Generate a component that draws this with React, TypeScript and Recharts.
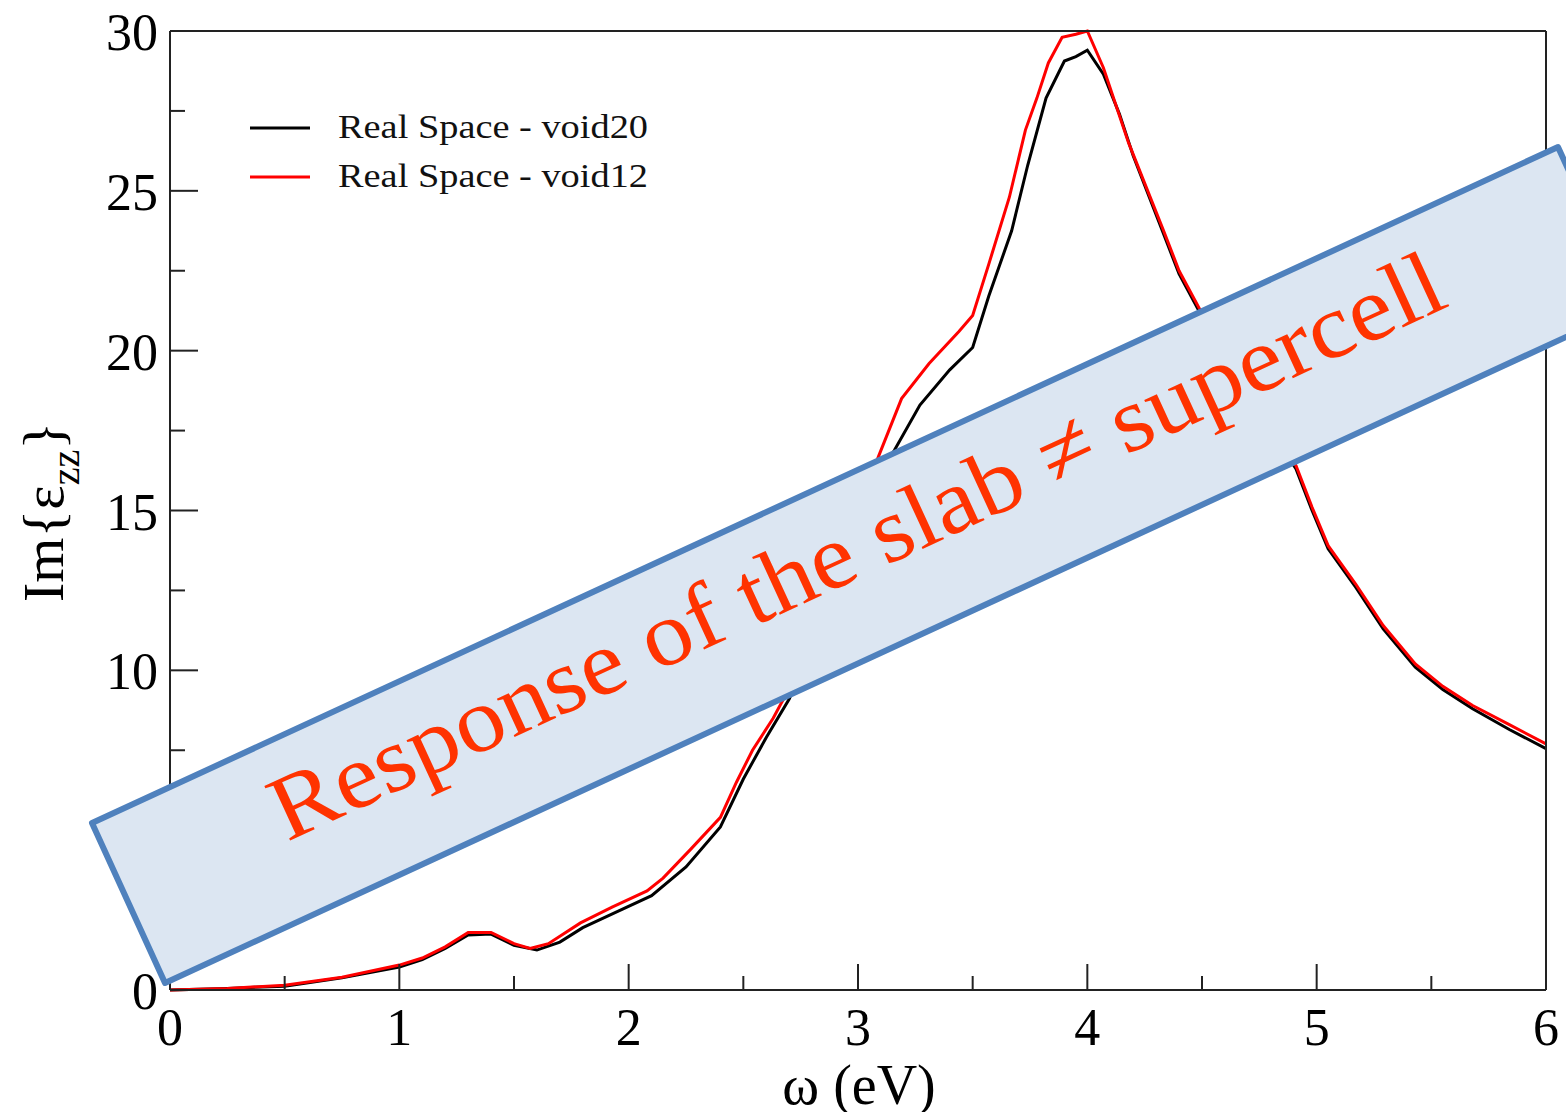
import React from 'react';
import { LineChart, Line, XAxis, YAxis, Legend, Label } from 'recharts';

// Im{eps_zz} spectra, two vacuum sizes
const OMEGA_VOID20 = [
  0, 0.25, 0.5, 0.75, 1.0, 1.1, 1.2, 1.3, 1.4, 1.5, 1.6, 1.7, 1.8, 1.95, 2.1, 2.25, 2.4, 2.5, 2.6, 2.7,
  2.8, 2.9, 3.0, 3.1, 3.16, 3.27, 3.4, 3.5, 3.57, 3.67, 3.74, 3.82, 3.9, 3.95, 4.0, 4.07, 4.14, 4.2,
  4.33, 4.4, 4.49, 4.6, 4.7, 4.8, 4.91, 4.98, 5.05, 5.17, 5.29, 5.43, 5.55, 5.68, 5.84, 6.0,
];
const EPS_VOID20 = [
  0, 0.05, 0.12, 0.38, 0.72, 0.95, 1.3, 1.72, 1.75, 1.4, 1.25, 1.5, 1.95, 2.45, 2.95, 3.85, 5.1, 6.6, 7.9,
  9.1, 10.8, 12.7, 14.6, 16.2, 16.9, 18.3, 19.4, 20.1, 21.7, 23.75, 25.8, 27.9, 29.06, 29.2, 29.4, 28.65,
  27.4, 26.1, 23.7, 22.4, 21.2, 19.8, 18.6, 17.5, 16.3, 15.0, 13.8, 12.6, 11.3, 10.1, 9.4, 8.8, 8.15, 7.55,
];

const OMEGA_VOID12 = [
  0, 0.25, 0.5, 0.75, 1.0, 1.1, 1.2, 1.3, 1.4, 1.5, 1.57, 1.65, 1.79, 1.93, 2.08, 2.15, 2.27, 2.4, 2.47,
  2.54, 2.63, 2.69, 2.8, 2.9, 3.0, 3.09, 3.19, 3.31, 3.44, 3.5, 3.57, 3.66, 3.73, 3.78, 3.83, 3.89, 3.95,
  4.0, 4.07, 4.18, 4.33, 4.4, 4.49, 4.6, 4.7, 4.8, 4.91, 4.98, 5.05, 5.17, 5.29, 5.43, 5.55, 5.68, 5.84, 6.0,
];
const EPS_VOID12 = [
  0, 0.05, 0.15, 0.4, 0.78, 1.0, 1.35, 1.8, 1.8, 1.45, 1.3, 1.45, 2.1, 2.6, 3.1, 3.5, 4.4, 5.4, 6.5, 7.5,
  8.5, 9.3, 11.2, 13.2, 15.0, 16.7, 18.5, 19.6, 20.6, 21.1, 22.7, 24.8, 26.9, 27.9, 29.0, 29.8, 29.9, 30.0,
  28.85, 26.5, 23.8, 22.5, 21.3, 19.9, 18.7, 17.6, 16.4, 15.1, 13.9, 12.7, 11.4, 10.2, 9.5, 8.9, 8.3, 7.7,
];

const X_TICKS = [0, 0.5, 1, 1.5, 2, 2.5, 3, 3.5, 4, 4.5, 5, 5.5, 6];
const Y_TICKS = [0, 2.5, 5, 7.5, 10, 12.5, 15, 17.5, 20, 22.5, 25, 27.5, 30];

const SERIES = [
  { name: 'Real Space - void20', color: '#000000', xs: OMEGA_VOID20, ys: EPS_VOID20 },
  { name: 'Real Space - void12', color: '#ff0000', xs: OMEGA_VOID12, ys: EPS_VOID12 },
];

const W = 1566;
const H = 1112;
const SERIF = '"Liberation Serif", "Times New Roman", serif';
const AXIS = '#222';

const toPoints = (xs: number[], ys: number[]) => xs.map((x, i) => ({ omega: x, eps: ys[i] }));

// ticks point inward on all four sides of the frame
function BottomTick({ x, y, payload }: any) {
  const major = payload.value % 1 === 0;
  return (
    <g>
      <line x1={x} x2={x} y1={y} y2={y - (major ? 26 : 14)} stroke={AXIS} strokeWidth={2} />
      {major && (
        <text x={x} y={y + 55} textAnchor="middle" fontSize={52} fontFamily={SERIF} fill="#000">
          {payload.value}
        </text>
      )}
    </g>
  );
}

function TopTick({ x, y, payload }: any) {
  const major = payload.value % 1 === 0;
  return <line x1={x} x2={x} y1={y} y2={y + (major ? 26 : 14)} stroke={AXIS} strokeWidth={2} />;
}

function LeftTick({ x, y, payload }: any) {
  const major = payload.value % 5 === 0;
  return (
    <g>
      <line x1={x} x2={x + (major ? 28 : 15)} y1={y} y2={y} stroke={AXIS} strokeWidth={2} />
      {major && (
        <text x={x - 12} y={y + 19} textAnchor="end" fontSize={52} fontFamily={SERIF} fill="#000">
          {payload.value}
        </text>
      )}
    </g>
  );
}

function RightTick({ x, y, payload }: any) {
  const major = payload.value % 5 === 0;
  return <line x1={x} x2={x - (major ? 28 : 15)} y1={y} y2={y} stroke={AXIS} strokeWidth={2} />;
}

function YTitle() {
  return (
    <text
      x={63}
      y={512}
      transform="rotate(-90 63 512)"
      textAnchor="middle"
      fontSize={58}
      fontFamily={SERIF}
      fill="#000"
    >
      Im{'{'}ε
      <tspan fontSize={40} dy={16}>
        zz
      </tspan>
      <tspan dy={-16}>{'}'}</tspan>
    </text>
  );
}

function XTitle() {
  return (
    <text x={859} y={1104} textAnchor="middle" fontSize={56} fontFamily={SERIF} fill="#000">
      ω (eV)
    </text>
  );
}

function LegendBox() {
  return (
    <svg width={430} height={110} style={{ display: 'block' }}>
      {SERIES.map((s, i) => (
        <g key={s.name}>
          <line x1={10} x2={70} y1={28 + i * 49} y2={28 + i * 49} stroke={s.color} strokeWidth={3} />
          <text
            x={98}
            y={38 + i * 49}
            fontSize={33}
            fontFamily={SERIF}
            fill="#111"
            textLength={310}
            lengthAdjust="spacingAndGlyphs"
          >
            {s.name}
          </text>
        </g>
      ))}
    </svg>
  );
}

// slanted call-out box laid over the plot
function Banner() {
  return (
    <svg
      width={W}
      height={H}
      style={{ position: 'absolute', left: 0, top: 0, pointerEvents: 'none' }}
    >
      <polygon
        points="92,823 1558,147 1631,307 165,983"
        fill="#dce6f2"
        stroke="#4f81bd"
        strokeWidth={6}
        strokeLinejoin="round"
      />
      <text
        x={287}
        y={842}
        transform="rotate(-24.76 287 842)"
        fontSize={92}
        fontFamily={SERIF}
        fill="#ff3300"
        textLength={1282}
        lengthAdjust="spacingAndGlyphs"
      >
        Response of the slab ≠ supercell
      </text>
    </svg>
  );
}

export default function App() {
  return (
    <div
      style={{
        position: 'absolute',
        left: 0,
        top: 0,
        width: W,
        height: H,
        overflow: 'hidden',
        background: '#fff',
      }}
    >
      <LineChart width={W} height={H} margin={{ top: 30, right: 19, bottom: 121, left: 169 }}>
        <XAxis
          xAxisId="bottom"
          type="number"
          dataKey="omega"
          domain={[0, 6]}
          ticks={X_TICKS}
          interval={0}
          height={1}
          tickSize={0}
          tickMargin={0}
          tickLine={false}
          tick={<BottomTick />}
          axisLine={{ stroke: AXIS, strokeWidth: 2 }}
        >
          <Label content={<XTitle />} />
        </XAxis>
        <XAxis
          xAxisId="top"
          orientation="top"
          type="number"
          dataKey="omega"
          domain={[0, 6]}
          ticks={X_TICKS}
          interval={0}
          height={1}
          tickSize={0}
          tickMargin={0}
          tickLine={false}
          tick={<TopTick />}
          axisLine={{ stroke: AXIS, strokeWidth: 2 }}
        />
        <YAxis
          yAxisId="left"
          type="number"
          domain={[0, 30]}
          ticks={Y_TICKS}
          interval={0}
          width={1}
          tickSize={0}
          tickMargin={0}
          tickLine={false}
          tick={<LeftTick />}
          axisLine={{ stroke: AXIS, strokeWidth: 2 }}
        >
          <Label content={<YTitle />} />
        </YAxis>
        <YAxis
          yAxisId="right"
          orientation="right"
          type="number"
          domain={[0, 30]}
          ticks={Y_TICKS}
          interval={0}
          width={1}
          tickSize={0}
          tickMargin={0}
          tickLine={false}
          tick={<RightTick />}
          axisLine={{ stroke: AXIS, strokeWidth: 2 }}
        />
        {SERIES.map((s) => (
          <Line
            key={s.name}
            xAxisId="bottom"
            yAxisId="left"
            data={toPoints(s.xs, s.ys)}
            dataKey="eps"
            name={s.name}
            type="linear"
            stroke={s.color}
            strokeWidth={3}
            dot={false}
            isAnimationActive={false}
          />
        ))}
        <Legend
          layout="vertical"
          align="center"
          verticalAlign="middle"
          content={<LegendBox />}
          wrapperStyle={{ position: 'absolute', left: 240, top: 100, width: 430, height: 110 }}
        />
      </LineChart>
      <Banner />
    </div>
  );
}
